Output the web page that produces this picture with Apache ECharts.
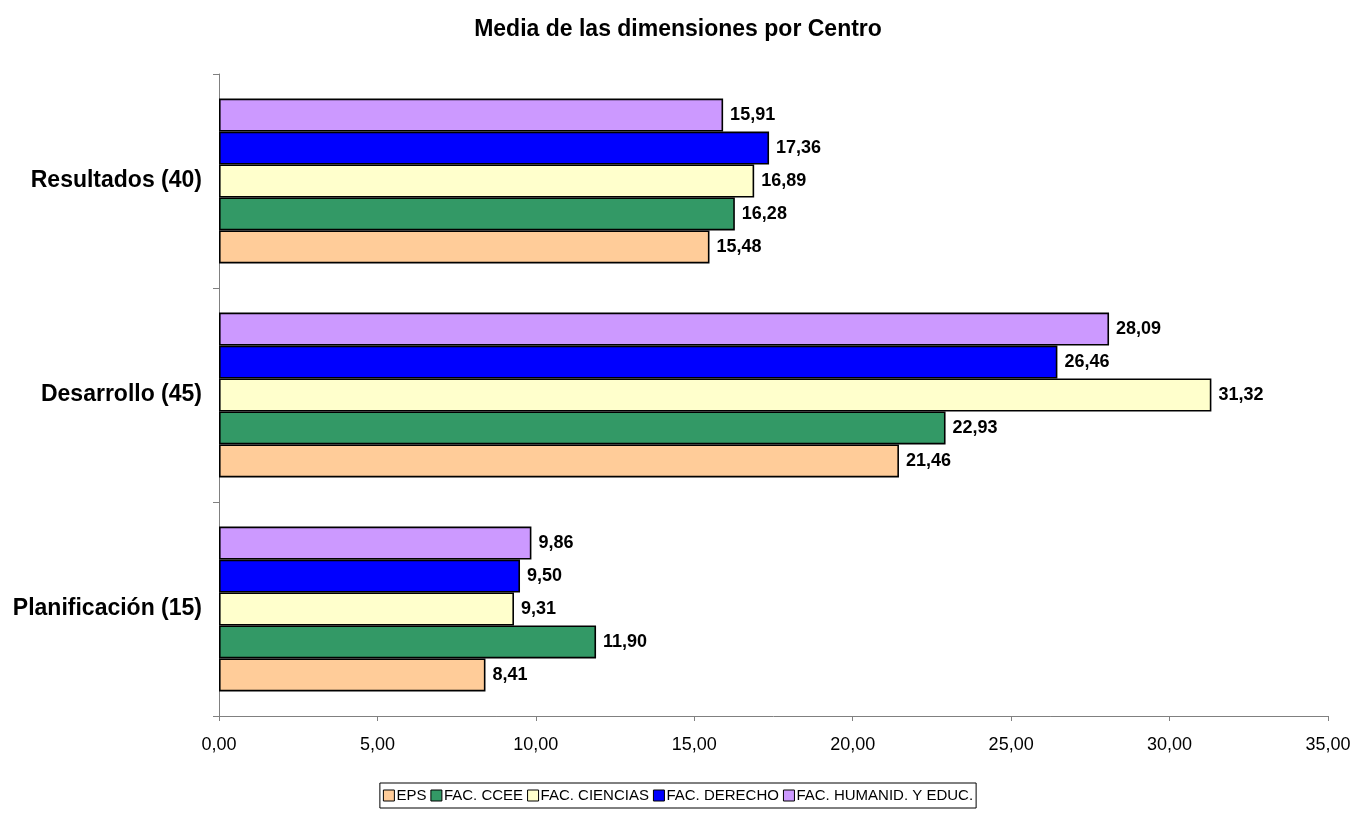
<!DOCTYPE html>
<html><head><meta charset="utf-8">
<script src="https://cdn.jsdelivr.net/npm/echarts@6/dist/echarts.min.js"></script>
<style>html,body{margin:0;padding:0;background:#fff}#c{width:1356px;height:826px}</style>
</head><body><div id="c"></div>
<script>
const categories = ['Planificación (15)', 'Desarrollo (45)', 'Resultados (40)'];
const seriesNames = ['EPS', 'FAC. CCEE', 'FAC. CIENCIAS', 'FAC. DERECHO', 'FAC. HUMANID. Y EDUC.'];
const eps = [8.41, 21.46, 15.48];
const ccee = [11.90, 22.93, 16.28];
const ciencias = [9.31, 31.32, 16.89];
const derecho = [9.50, 26.46, 17.36];
const humanid = [9.86, 28.09, 15.91];
const colors = ['#FFCC99', '#339966', '#FFFFCC', '#0000FF', '#CC99FF'];
const values = [eps, ccee, ciencias, derecho, humanid];
const fmt = v => v.toFixed(2).replace('.', ',');
const font = 'Arial, "Liberation Sans", sans-serif';
const order = [4, 3, 2, 1, 0]; // draw order so EPS sits lowest in each band
const chart = echarts.init(document.getElementById('c'));
chart.setOption({
  animation: false,
  textStyle: {fontFamily: font},
  title: {text: 'Media de las dimensiones por Centro', left: 'center', top: 13,
    textStyle: {fontFamily: font, fontSize: 23, fontWeight: 'bold', color: '#000'}},
  legend: {bottom: 18, left: 'center', itemWidth: 11, itemHeight: 11, itemGap: 4,
    borderColor: '#000', borderWidth: 1, padding: [5, 3, 5, 3], borderRadius: 0,
    textStyle: {fontFamily: font, fontSize: 15, color: '#000', padding: [0, 0, 0, -3]},
    data: seriesNames.map(n => ({name: n, icon: 'rect', itemStyle: {borderColor: '#000', borderWidth: 1}}))},
  grid: {left: 219, right: 28, top: 74, bottom: 110, containLabel: false},
  xAxis: {type: 'value', min: 0, max: 35, interval: 5,
    axisLine: {show: true, lineStyle: {color: '#808080'}},
    axisTick: {show: true, length: 5, lineStyle: {color: '#808080'}},
    splitLine: {show: false},
    axisLabel: {formatter: fmt, fontFamily: font, fontSize: 18, color: '#000', margin: 20}},
  yAxis: {type: 'category', data: categories,
    axisLine: {show: true, lineStyle: {color: '#808080'}},
    axisTick: {show: true, length: 6, lineStyle: {color: '#808080'}},
    axisLabel: {fontFamily: font, fontSize: 23, fontWeight: 'bold', color: '#000', margin: 17}},
  series: order.map(i => ({
    name: seriesNames[i], type: 'bar', data: values[i], barGap: '0%', barCategoryGap: '23%',
    itemStyle: {color: colors[i], borderColor: '#000', borderWidth: 1.6},
    label: {show: true, position: 'right', distance: 7, formatter: p => fmt(p.value),
      fontFamily: font, fontSize: 18, fontWeight: 'bold', color: '#000'}
  }))
});
</script></body></html>
